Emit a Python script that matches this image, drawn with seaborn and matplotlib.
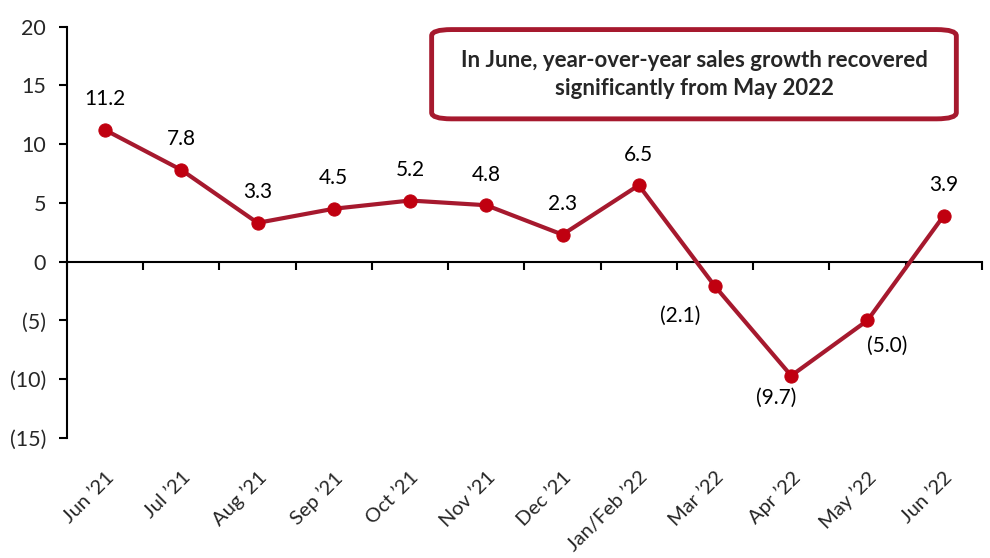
import matplotlib
matplotlib.use("Agg")
import matplotlib.pyplot as plt
import seaborn as sns
import pandas as pd
from matplotlib.patches import FancyBboxPatch

# --- DATA ---
months = ["Jun \u201921", "Jul \u201921", "Aug \u201921", "Sep \u201921", "Oct \u201921", "Nov \u201921",
          "Dec \u201921", "Jan/Feb \u201922", "Mar \u201922", "Apr \u201922", "May \u201922", "Jun \u201922"]
growth = [11.2, 7.8, 3.3, 4.5, 5.2, 4.8, 2.3, 6.5, -2.1, -9.7, -5.0, 3.9]
y_ticks = [-15, -10, -5, 0, 5, 10, 15, 20]
note = "In June, year-over-year sales growth recovered\nsignificantly from May 2022"

LINE_COLOR = "#A6192E"
MARKER_COLOR = "#C00010"

sns.set_style("white")
plt.rcParams['font.family'] = ['Lato', 'DejaVu Sans']

df = pd.DataFrame({"idx": range(len(months)), "growth": growth})

fig = plt.figure(figsize=(9.9, 5.58), dpi=100)
ax = fig.add_axes([0.0677, 0.215, 0.924, 0.7375])

sns.lineplot(data=df, x="idx", y="growth", ax=ax, color=LINE_COLOR, linewidth=3.0,
             marker="o", markersize=9.5, markerfacecolor=MARKER_COLOR,
             markeredgecolor=MARKER_COLOR, zorder=3)

ax.set_xlim(-0.5, len(months) - 0.5)
ax.set_ylim(-15, 20)
ax.set_yticks(y_ticks)
ax.set_yticklabels([f"({abs(v)})" if v < 0 else str(v) for v in y_ticks], fontsize=15.5)
ax.tick_params(axis="y", left=True, direction="out", length=6, width=1.5, color="black", pad=9)

ax.set_xticks(range(len(months)))
ax.set_xticklabels(months, rotation=45, ha="right", rotation_mode="anchor", fontsize=14.5)
ax.tick_params(axis="x", bottom=False, length=0, pad=22)
ax.set_xlabel("")
ax.set_ylabel("")

for side in ["top", "right", "bottom"]:
    ax.spines[side].set_visible(False)
ax.spines["left"].set_linewidth(1.5)
ax.spines["left"].set_color("black")

# zero line with category boundary tick marks
zero_frac = (0 - (-15)) / (20 - (-15))
sec = ax.secondary_xaxis(zero_frac)
sec.set_xticks([i - 0.5 for i in range(len(months) + 1)])
sec.set_xticklabels([])
sec.tick_params(bottom=True, direction="out", length=6, width=1.5, color="black")
sec.spines["bottom"].set_linewidth(1.5)
sec.spines["bottom"].set_color("black")

# data labels
offsets = {8: (-25, -21), 9: (-11, -16), 10: (14, -18)}
for i, v in enumerate(growth):
    txt = f"({abs(v):.1f})" if v < 0 else f"{v:.1f}"
    dx, dy = offsets.get(i, (0, 22))
    ax.annotate(txt, (i, v), xytext=(dx, dy), textcoords="offset points",
                ha="center", va="center", fontsize=15, color="black")

# callout box
box = FancyBboxPatch((0.436, 0.787), 0.530, 0.160, transform=fig.transFigure,
                     boxstyle="round,pad=0,rounding_size=0.02", mutation_aspect=558 / 990,
                     facecolor="white", edgecolor=LINE_COLOR, linewidth=3.5, zorder=5)
fig.patches.append(box)
fig.text(0.701, 0.867, note, ha="center", va="center", fontsize=16, fontweight="bold",
         linespacing=1.4, zorder=6)

fig.savefig("out.png", dpi=100)
plt.close(fig)
